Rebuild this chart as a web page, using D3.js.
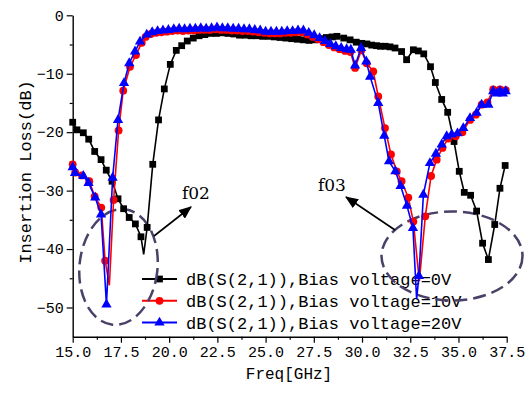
<!DOCTYPE html>
<html>
<head>
<meta charset="utf-8">
<script src="https://cdn.jsdelivr.net/npm/d3@7"></script>
<style>
body { margin: 0; background: #fff; }
svg text { font-family: "Liberation Mono", monospace; fill: #000; }
</style>
</head>
<body>
<svg id="chart" width="532" height="393"></svg>
<script>
// ---- data ----
var f0V = [15.0, 15.22, 15.55, 15.83, 16.14, 16.47, 16.74, 17.04, 17.35, 17.64, 17.93, 18.25, 18.54, 18.68, 18.86,
    19.15, 19.45, 19.75, 20.06, 20.37, 20.65, 20.94, 21.25, 21.55, 21.85, 22.15, 22.45, 22.75, 23.05, 23.35,
    23.65, 23.95, 24.25, 24.55, 24.85, 25.15, 25.45, 25.75, 26.05, 26.35, 26.65, 26.95, 27.25, 27.55, 27.85,
    28.15, 28.45, 28.7, 29.05, 29.38, 29.7, 29.98, 30.25, 30.5, 30.75, 30.95, 31.2, 31.45, 31.71, 32.05,
    32.31, 32.66, 32.92, 33.2, 33.55, 33.8, 34.13, 34.44, 34.77, 35.04, 35.3, 35.63, 35.94, 36.25, 36.55,
    36.88, 37.15, 37.42];
var s0V = [-18.3, -19.6, -20.1, -21.2, -23.3, -24.7, -26.5, -28.4, -31.4, -33.1, -34.6, -35.7, -37.9, -40.9, -36.3,
    -25.5, -17.9, -12.6, -8.4, -6.0, -5.2, -4.4, -3.9, -3.5, -3.3, -3.1, -3.1, -3.0, -3.1, -3.2,
    -3.4, -3.4, -3.5, -3.5, -3.6, -3.6, -3.7, -3.8, -3.9, -4.0, -4.1, -4.2, -4.3, -4.2, -4.0,
    -3.8, -3.7, -3.6, -3.9, -4.2, -4.6, -4.8, -4.9, -5.1, -5.2, -5.3, -5.3, -5.4, -5.6, -6.2,
    -7.6, -5.9, -6.1, -6.6, -8.8, -11.5, -14.4, -16.6, -21.6, -26.7, -30.3, -30.8, -33.5, -39.0, -41.8,
    -35.8, -29.6, -25.7];

var f10V = [15.0, 15.13, 15.48, 15.86, 16.14, 16.48, 16.68, 16.9, 17.12, 17.38, 17.62, 17.97, 18.28, 18.58, 18.78,
    19.05, 19.33, 19.6, 19.88, 20.16, 20.44, 20.72, 21.0, 21.28, 21.56, 21.84, 22.12, 22.4, 22.68, 22.96,
    23.24, 23.52, 23.8, 24.08, 24.36, 24.64, 24.92, 25.2, 25.48, 25.76, 26.04, 26.32, 26.6, 26.88, 27.16,
    27.44, 27.72, 28.0, 28.28, 28.56, 28.84, 29.12, 29.4, 29.64, 29.96, 30.24, 30.58, 30.84, 31.19, 31.5,
    31.8, 32.05, 32.4, 32.66, 32.97, 33.28, 33.58, 33.87, 34.17, 34.47, 34.86, 35.2, 35.6, 35.9, 36.2,
    36.5, 36.8, 36.98, 37.15, 37.3, 37.45];
var s10V = [-25.5, -26.9, -27.4, -28.4, -31.0, -32.9, -42.0, -46.2, -31.6, -19.7, -12.9, -8.8, -6.8, -4.7, -3.7,
    -3.2, -3.0, -2.9, -2.8, -2.7, -2.6, -2.7, -2.6, -2.6, -2.5, -2.5, -2.5, -2.4, -2.5, -2.5,
    -2.6, -2.6, -2.7, -2.7, -2.8, -2.9, -3.0, -3.1, -3.1, -3.1, -3.0, -3.0, -2.9, -2.9, -3.3,
    -3.7, -4.1, -4.6, -5.1, -5.5, -5.8, -6.1, -6.3, -9.0, -6.0, -8.2, -9.6, -13.9, -19.3, -23.8,
    -26.7, -28.4, -31.2, -35.3, -45.5, -34.4, -27.5, -24.7, -22.7, -21.1, -20.7, -20.0, -17.9, -17.0, -15.3,
    -14.9, -12.7, -13.0, -12.7, -13.0, -12.8];

var f20V = [15.0, 15.12, 15.55, 15.82, 16.17, 16.47, 16.75, 17.07, 17.35, 17.66, 17.93, 18.23, 18.49, 18.84, 19.12,
    19.4, 19.68, 19.96, 20.24, 20.52, 20.8, 21.08, 21.36, 21.64, 21.92, 22.2, 22.48, 22.76, 23.04, 23.32,
    23.6, 23.88, 24.16, 24.44, 24.72, 25.0, 25.28, 25.56, 25.84, 26.12, 26.4, 26.68, 26.96, 27.24, 27.52,
    27.8, 28.08, 28.36, 28.64, 28.92, 29.2, 29.42, 29.64, 29.95, 30.22, 30.42, 30.84, 31.15, 31.4, 31.73,
    32.0, 32.33, 32.64, 32.83, 32.95, 33.18, 33.52, 33.83, 34.13, 34.39, 34.65, 34.95, 35.25, 35.6, 35.94,
    36.2, 36.55, 36.8, 36.98, 37.15, 37.3, 37.45];
var s20V = [-26.0, -27.0, -27.5, -28.7, -31.2, -34.1, -49.5, -27.8, -17.9, -11.6, -8.2, -6.2, -4.5, -3.3, -2.9,
    -2.7, -2.6, -2.5, -2.4, -2.3, -2.4, -2.3, -2.3, -2.2, -2.3, -2.2, -2.1, -2.2, -2.2, -2.3,
    -2.3, -2.4, -2.4, -2.5, -2.6, -2.8, -2.8, -2.8, -2.8, -2.7, -2.7, -2.6, -2.6, -3.0, -3.4,
    -3.9, -4.4, -4.9, -5.3, -5.6, -5.8, -5.9, -8.6, -5.6, -7.9, -10.5, -15.0, -20.6, -25.0, -26.7,
    -29.2, -32.6, -36.4, -48.6, -44.6, -30.7, -25.3, -23.7, -22.1, -20.7, -20.4, -20.2, -19.3, -17.6, -16.7,
    -15.3, -15.3, -13.0, -13.4, -13.0, -13.4, -13.0];

// sample points that carry no symbol in the original (the sharp minima)
var bare0V = [18.68];
var bare10V = [16.9, 32.97];
var bare20V = [32.83];

var seriesNames = ["dB(S(2,1)),Bias voltage=0V", "dB(S(2,1)),Bias voltage=10V", "dB(S(2,1)),Bias voltage=20V"];
var xTicks = [15, 17.5, 20, 22.5, 25, 27.5, 30, 32.5, 35, 37.5];
var xMinor = [16.25, 18.75, 21.25, 23.75, 26.25, 28.75, 31.25, 33.75, 36.25];
var yTicks = [0, -10, -20, -30, -40, -50];
var yMinor = [-5, -15, -25, -35, -45];

// ==================================

var svg = d3.select("#chart");

var x = d3.scaleLinear().domain([15, 37.5]).range([72.7, 506.7]);
var y = d3.scaleLinear().domain([-55, 0]).range([336.7, 15.3]);

var toPoints = function(fs, ss) {
    return fs.map(function(f, i) { return [f, ss[i]]; });
};

var series = [
    { name: seriesNames[0], color: "#000000", shape: "square", pts: toPoints(f0V, s0V), bare: bare0V },
    { name: seriesNames[1], color: "#ff0000", shape: "circle", pts: toPoints(f10V, s10V), bare: bare10V },
    { name: seriesNames[2], color: "#0000ff", shape: "triangle", pts: toPoints(f20V, s20V), bare: bare20V }
];

var symbolFor = function(shape) {
    if (shape === "square") return d3.symbol().type(d3.symbolSquare).size(46)();
    if (shape === "circle") return d3.symbol().type(d3.symbolCircle).size(48)();
    return d3.symbol().type(d3.symbolTriangle).size(46)();
};

// axes
var xAxis = svg.append("g")
    .attr("transform", "translate(0," + y(-55) + ")")
    .call(d3.axisBottom(x).tickValues(xTicks).tickFormat(d3.format(".1f")).tickSize(6).tickSizeOuter(0).tickPadding(4));
svg.append("g")
    .attr("transform", "translate(0," + y(-55) + ")")
    .call(d3.axisBottom(x).tickValues(xMinor).tickFormat("").tickSize(3))
    .select(".domain").remove();

var yAxis = svg.append("g")
    .attr("transform", "translate(" + x(15) + ",0)")
    .call(d3.axisLeft(y).tickValues(yTicks).tickSize(6).tickSizeOuter(0).tickPadding(3));
svg.append("g")
    .attr("transform", "translate(" + x(15) + ",0)")
    .call(d3.axisLeft(y).tickValues(yMinor).tickFormat("").tickSize(3))
    .select(".domain").remove();

svg.selectAll(".domain").attr("stroke-width", 1.4);
svg.selectAll(".tick line").attr("stroke-width", 1.2);
xAxis.selectAll("text").attr("font-size", 15);
yAxis.selectAll("text").attr("font-size", 15);

svg.append("text")
    .attr("x", 289).attr("y", 379)
    .attr("text-anchor", "middle")
    .attr("font-size", 16)
    .text("Freq[GHz]");

svg.append("text")
    .attr("transform", "translate(31,172) rotate(-90)")
    .attr("text-anchor", "middle")
    .attr("font-size", 17)
    .text("Insertion Loss(dB)");

// legend
var legend = svg.append("g");
series.forEach(function(s, i) {
    var ly = 279 + i * 21.8;
    legend.append("line")
        .attr("x1", 142).attr("x2", 177).attr("y1", ly).attr("y2", ly)
        .attr("stroke", s.color).attr("stroke-width", 2);
    legend.append("path")
        .attr("d", symbolFor(s.shape))
        .attr("transform", "translate(159.5," + ly + ")")
        .attr("fill", s.color);
    legend.append("text")
        .attr("x", 186).attr("y", ly + 6)
        .attr("font-size", 17)
        .text(s.name);
});

// dashed ellipses
svg.append("ellipse")
    .attr("cx", 118.5).attr("cy", 267).attr("rx", 39).attr("ry", 58)
    .attr("transform", "rotate(6,118.5,267)")
    .attr("fill", "none").attr("stroke", "#4b4068").attr("stroke-width", 2.5)
    .attr("stroke-dasharray", "13,6");
svg.append("ellipse")
    .attr("cx", 452).attr("cy", 256).attr("rx", 70.5).attr("ry", 44.5)
    .attr("fill", "none").attr("stroke", "#4b4068").attr("stroke-width", 2.5)
    .attr("stroke-dasharray", "13,6");

// curves
var line = d3.line()
    .x(function(d) { return x(d[0]); })
    .y(function(d) { return y(d[1]); });

series.forEach(function(s) {
    var g = svg.append("g");
    g.append("path")
        .datum(s.pts)
        .attr("d", line)
        .attr("fill", "none")
        .attr("stroke", s.color)
        .attr("stroke-width", 1.6);
    g.selectAll("path.mk")
        .data(s.pts.filter(function(d) { return s.bare.indexOf(d[0]) < 0; }))
        .enter()
        .append("path")
        .attr("class", "mk")
        .attr("d", symbolFor(s.shape))
        .attr("transform", function(d) { return "translate(" + x(d[0]) + "," + y(d[1]) + ")"; })
        .attr("fill", s.color);
});

// annotation arrows
var defs = svg.append("defs");
defs.append("marker")
    .attr("id", "arrow")
    .attr("viewBox", "0 0 12 10")
    .attr("refX", 11).attr("refY", 5)
    .attr("markerWidth", 13).attr("markerHeight", 11)
    .attr("markerUnits", "userSpaceOnUse")
    .attr("orient", "auto")
    .append("path")
    .attr("d", "M0,0 L12,5 L0,10 Z")
    .attr("fill", "#000");

svg.append("line")
    .attr("x1", 154).attr("y1", 236).attr("x2", 191).attr("y2", 207)
    .attr("stroke", "#000").attr("stroke-width", 1.6)
    .attr("marker-end", "url(#arrow)");
svg.append("line")
    .attr("x1", 395).attr("y1", 230).attr("x2", 346).attr("y2", 197)
    .attr("stroke", "#000").attr("stroke-width", 1.6)
    .attr("marker-end", "url(#arrow)");

svg.append("text")
    .attr("x", 182).attr("y", 199)
    .style("font-family", "'DejaVu Serif', serif")
    .attr("font-size", 17)
    .text("f02");
svg.append("text")
    .attr("x", 318).attr("y", 191)
    .style("font-family", "'DejaVu Serif', serif")
    .attr("font-size", 17)
    .text("f03");
</script>
</body>
</html>
